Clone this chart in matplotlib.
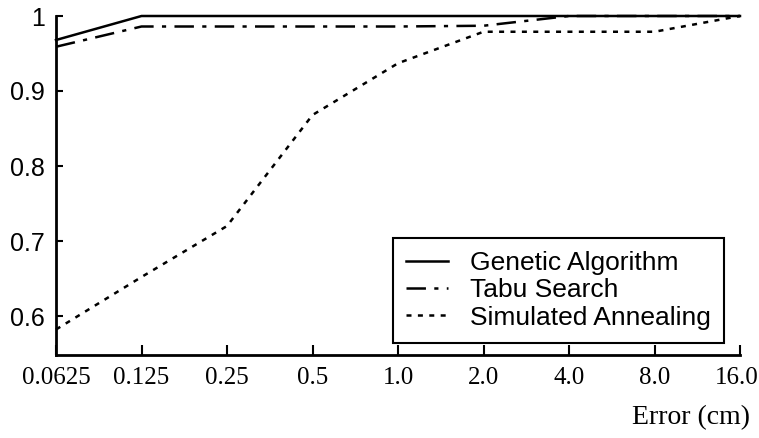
import matplotlib
matplotlib.use("Agg")
import matplotlib.pyplot as plt
from matplotlib.transforms import ScaledTranslation

plt.rcParams['lines.scale_dashes'] = False

categories = ["0.0625", "0.125", "0.25", "0.5", "1.0", "2.0", "4.0", "8.0", "16.0"]
ga = [0.968, 1.0, 1.0, 1.0, 1.0, 1.0, 1.0, 1.0, 1.0]
tabu = [0.959, 0.986, 0.986, 0.986, 0.986, 0.987, 1.0, 1.0, 1.0]
sa = [0.582, 0.652, 0.72, 0.868, 0.937, 0.979, 0.979, 0.979, 1.0]
yticks = [0.6, 0.7, 0.8, 0.9, 1.0]
ytick_labels = ["0.6", "0.7", "0.8", "0.9", "1"]

fig = plt.figure(figsize=(7.59, 4.38), dpi=100)
ax = fig.add_axes([56/759, 1-355/438, (740-56)/759, (355-16)/438])

x = list(range(len(categories)))
ax.plot(x, ga, color='black', lw=1.8, label='Genetic Algorithm', clip_on=False)
ax.plot(x, tabu, color='black', lw=1.8, dashes=(14, 6, 3, 6), label='Tabu Search', clip_on=False)
ax.plot(x, sa, color='black', lw=1.8, dashes=(3.6, 4.6), label='Simulated Annealing', clip_on=False)

ax.set_xlim(0, len(categories) - 1)
ax.set_ylim(0.548, 1.0)
ax.set_xticks(x)
ax.set_xticklabels(categories, family='Liberation Serif', fontsize=18)
ax.set_yticks(yticks)
ax.set_yticklabels(ytick_labels, family='Liberation Sans', fontsize=18)
ax.tick_params(axis='x', direction='in', length=7, width=1.5, pad=9)
ax.tick_params(axis='y', direction='in', length=5, width=1.5, pad=8)
for s in ['top', 'right']:
    ax.spines[s].set_visible(False)
for s in ['left', 'bottom']:
    ax.spines[s].set_linewidth(2)

# keep the last x label inside the figure
last = ax.get_xticklabels()[-1]
last.set_ha('right')
last.set_transform(last.get_transform() + ScaledTranslation(19/100, 0, fig.dpi_scale_trans))

leg = ax.legend(loc='upper left', bbox_to_anchor=(393/759, 1-238/438),
                bbox_transform=fig.transFigure, frameon=True, fancybox=False,
                edgecolor='black', framealpha=1, borderaxespad=0,
                prop={'family': 'Liberation Sans', 'size': 19},
                handlelength=1.6, handletextpad=0.8, labelspacing=0.12,
                borderpad=0.5)
leg.get_frame().set_linewidth(1.5)

fig.text(750/759, 1-418/438, "Error (cm)", family='Liberation Serif', fontsize=20,
         ha='right', va='center')

fig.savefig("out.png", dpi=100)
